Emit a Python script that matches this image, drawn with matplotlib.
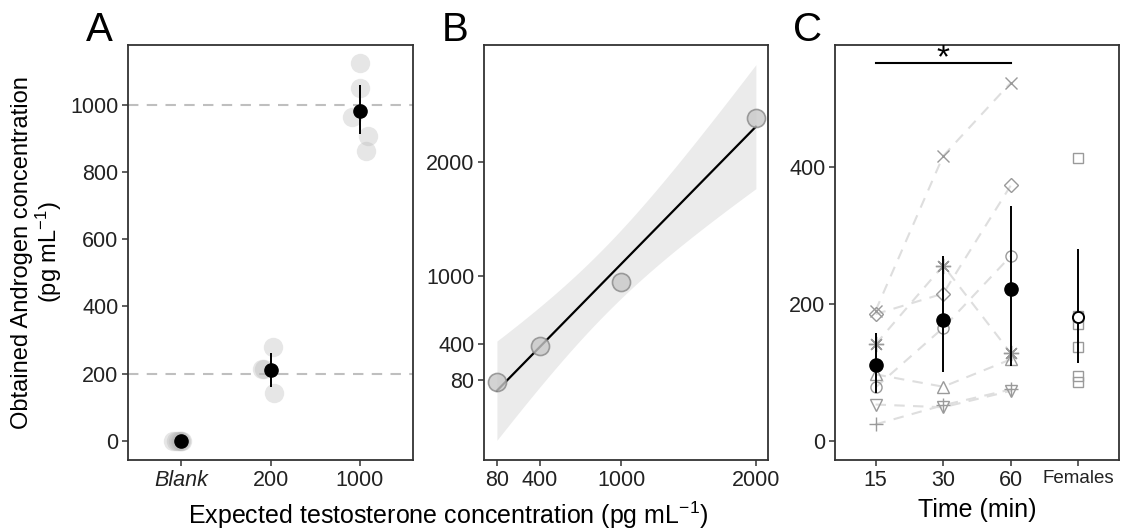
import matplotlib
import matplotlib.pyplot as plt
import numpy as np

matplotlib.use("Agg")

plt.rcParams["font.family"] = ["Liberation Sans", "DejaVu Sans"]
plt.rcParams["mathtext.fontset"] = "custom"
plt.rcParams["mathtext.rm"] = "Liberation Sans"
plt.rcParams["mathtext.it"] = "Liberation Sans:italic"

# ---- Panel A: spiked samples ----
a_groups = ["Blank", "200", "1000"]
a_expected = [0, 200, 1000]
a_points = [
    [0, 0, 0, 0, 0, 0],
    [278, 141, 215, 214],
    [1124, 1050, 965, 907, 864],
]
a_jitter = [
    [-0.09, -0.06, -0.04, -0.02, 0.0, 0.01],
    [0.03, 0.04, -0.09, -0.07],
    [0.0, 0.0, -0.09, 0.10, 0.07],
]
a_mean = [0, 212, 982]
a_lo = [0, 160, 912]
a_hi = [0, 262, 1060]

# ---- Panel B: calibration ----
b_expected = np.array([80, 400, 1000, 2000])
b_obtained = np.array([65, 379, 940, 2390])
b_ticks = [80, 400, 1000, 2000]

# ---- Panel C: time course ----
c_labels = ["15", "30", "60", "Females"]
c_individuals = {
    "x": [190, 416, 523],
    "D": [185, 215, 373],
    "ast": [141, 256, 128],
    "o": [78, 165, 270],
    "^": [97, 79, 119],
    "v": [53, 49, 73],
    "+": [24, 52, 75],
}
c_mean = [110, 176, 222]
c_lo = [70, 100, 109]
c_hi = [157, 270, 343]
c_females = [413, 182, 170, 137, 95, 86]
c_fem_mean = 180.5
c_fem_lo = 113
c_fem_hi = 280

W, H = 1122, 530
fig = plt.figure(figsize=(W / 100, H / 100), dpi=100)

frame_col = "#333333"
tick_col = "#222222"


def make_ax(left_px, right_px):
    ax = fig.add_axes([left_px / W, 1 - 460 / H, (right_px - left_px) / W, (460 - 45) / H])
    for s in ax.spines.values():
        s.set_color(frame_col)
        s.set_linewidth(1.3)
    ax.tick_params(direction="out", length=4, width=1.1, color=frame_col,
                   labelsize=15.5, labelcolor=tick_col, pad=3)
    return ax


def panel_letter(ax, letter):
    ax.text(-0.148, 1 + 4 / 415, letter, transform=ax.transAxes, fontsize=29,
            ha="left", va="baseline")


# Panel A
axA = make_ax(128, 413)
for y in (200, 1000):
    axA.axhline(y, color="#bfbfbf", lw=1.5, dashes=(5, 4), zorder=1)
for i, (pts, jit) in enumerate(zip(a_points, a_jitter)):
    xs = i + 1 + np.array(jit)
    axA.plot(xs, pts, "o", ms=14, color="#b5b5b5", alpha=0.33, mec="none", zorder=2)
xpos = np.arange(1, len(a_groups) + 1)
axA.vlines(xpos, a_lo, a_hi, color="black", lw=1.4, zorder=3)
axA.plot(xpos, a_mean, "o", ms=9.5, color="black", zorder=4)
axA.set_xlim(0.4, 3.6)
axA.set_ylim(-57, 1178)
axA.set_xticks(xpos)
axA.set_xticklabels(a_groups)
axA.get_xticklabels()[0].set_style("italic")
axA.set_yticks([0, 200, 400, 600, 800, 1000])
axA.set_ylabel("Obtained Androgen concentration\n(pg mL$^{-1}$)", fontsize=17,
               labelpad=4, linespacing=1.05)
panel_letter(axA, "A")

# Panel B
axB = make_ax(484, 768)
slope, intercept = np.polyfit(b_expected, b_obtained, 1)
xx = np.linspace(b_expected.min(), b_expected.max(), 100)
fit = slope * xx + intercept
resid = b_obtained - (slope * b_expected + intercept)
n = len(b_expected)
s = np.sqrt(np.sum(resid ** 2) / (n - 2))
sxx = np.sum((b_expected - b_expected.mean()) ** 2)
t_crit = 4.303  # t(0.975, df=2)
se = s * np.sqrt(1 / n + (xx - b_expected.mean()) ** 2 / sxx)
axB.fill_between(xx, fit - t_crit * se, fit + t_crit * se, color="#ebebeb", lw=0, zorder=1)
axB.plot(xx, fit, color="black", lw=1.6, zorder=2)
axB.plot(b_expected, b_obtained, "o", ms=13, mfc="#c8c8c8", mec="#888888",
         mew=1.2, alpha=0.8, zorder=3)
axB.set_xlim(-16, 2090)
axB.set_ylim(-626, 3034)
axB.set_xticks(b_ticks)
axB.set_yticks(b_ticks)
panel_letter(axB, "B")

fig.text((128 + 768) / 2 / W, 1 - 515 / H, "Expected testosterone concentration (pg mL$^{-1}$)",
         fontsize=18, ha="center", va="center")

# Panel C
axC = make_ax(835, 1119)
tx = np.arange(1, 4)
for mk, vals in c_individuals.items():
    axC.plot(tx, vals, color="#dedede", lw=1.5, dashes=(5, 4), zorder=1)
    marker = (8, 2, 0) if mk == "ast" else mk
    ms = {"D": 7, "ast": 11, "x": 9, "+": 10}.get(mk, 8)
    axC.plot(tx, vals, ls="none", marker=marker, ms=ms, mfc="none", mec="#9a9a9a",
             mew=1.0, zorder=2)
fx = np.full(len(c_females), 4)
axC.plot(fx, c_females, ls="none", marker="s", ms=7, mfc="none", mec="#9a9a9a",
         mew=1.0, zorder=2)
axC.vlines(tx, c_lo, c_hi, color="black", lw=1.4, zorder=3)
axC.plot(tx, c_mean, "o", ms=9.5, color="black", zorder=4)
axC.vlines([4], [c_fem_lo], [c_fem_hi], color="black", lw=1.4, zorder=3)
axC.plot([4], [c_fem_mean], "o", ms=8, mfc="white", mec="black", mew=1.4, zorder=4)
axC.plot([1, 3], [551, 551], color="black", lw=1.5)
axC.text(2, 545, "*", ha="center", va="baseline", fontsize=24)
axC.set_xlim(0.4, 4.6)
axC.set_ylim(-28, 578)
axC.set_xticks(np.arange(1, 5))
axC.set_xticklabels(c_labels)
axC.get_xticklabels()[3].set_fontsize(13.5)
axC.set_yticks([0, 200, 400])
axC.set_xlabel("Time (min)", fontsize=18, labelpad=5)
panel_letter(axC, "C")

fig.savefig("out.png", dpi=100)
